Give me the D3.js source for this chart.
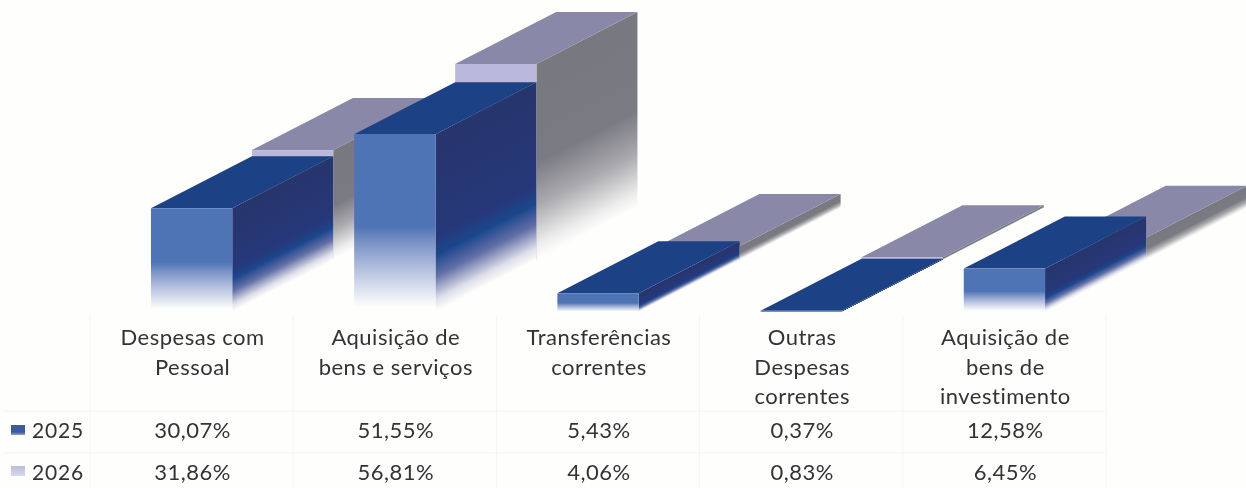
<!DOCTYPE html>
<html><head><meta charset="utf-8">
<script src="https://cdn.jsdelivr.net/npm/d3@7"></script>
<style>
html,body{margin:0;padding:0;background:#fefefc;overflow:hidden}
svg{filter:blur(0.4px);display:block}
text{font-family:Lato,"Noto Sans",sans-serif;fill:#333336}
</style></head><body>
<svg id="c" width="1246" height="488"></svg>
<script>
const categories = ["Despesas com Pessoal","Aquisição de bens e serviços","Transferências correntes","Outras Despesas correntes","Aquisição de bens de investimento"];
const categoryLines = [["Despesas com","Pessoal"],["Aquisição de","bens e serviços"],["Transferências","correntes"],["Outras","Despesas","correntes"],["Aquisição de","bens de","investimento"]];
const years = ["2025","2026"];
const values2025 = [30.07,51.55,5.43,0.37,12.58];
const values2026 = [31.86,56.81,4.06,0.83,6.45];
const labels2025 = ["30,07%","51,55%","5,43%","0,37%","12,58%"];
const labels2026 = ["31,86%","56,81%","4,06%","0,83%","6,45%"];

const W=1246,H=488, depthX=101, depthY=52, baseY=312;
const svg=d3.select("#c");
const x=d3.scaleBand().domain(categories).range([90,1106]).paddingInner(0.6).paddingOuter(0.3);
const y=d3.scaleLinear().domain([0,60]).range([baseY,baseY-207]);
const step=x.step(), bw=x.bandwidth();

const defs=svg.append("defs");
function grad(id,stops){
  const g=defs.append("linearGradient").attr("id",id).attr("x1",0).attr("x2",0).attr("y1",0).attr("y2",1);
  stops.forEach(s=>g.append("stop").attr("offset",s[0]).attr("stop-color",s[1]));
}
grad("front25",[[0,"#4f74b6"],[.52,"#4f74b6"],[.62,"#7f96c8"],[.8,"#c3cce4"],[.97,"#fefefc"],[1,"#fefefc"]]);
grad("side25",[[0,"#27356c"],[.58,"#26387a"],[.68,"#1b468c"],[.8,"#626fa6"],[.93,"#dedfe9"],[1,"#fefefc"]]);
grad("front26",[[0,"#bab9dc"],[1,"#bab9dc"]]);
grad("side26",[[0,"#78787f"],[.5,"#7a7a82"],[.72,"#a9a9ae"],[.92,"#ececec"],[1,"#fefefc"]]);
grad("leg25",[[0,"#3d5c9e"],[.7,"#3a5aa0"],[1,"#8fa2cc"]]);
grad("leg26",[[0,"#bdbcdc"],[1,"#d8d8e8"]]);

// table rules
const grid=svg.append("g").attr("stroke","#f5f4f1").attr("stroke-width",1);
d3.range(0,6).forEach(i=>grid.append("line").attr("x1",90+i*step).attr("x2",90+i*step).attr("y1",316).attr("y2",488));
[411,453].forEach(v=>grid.append("line").attr("x1",4).attr("x2",1106).attr("y1",v).attr("y2",v));

function drawSeries(vals,ox,oy,front,side,top){
  const g=svg.append("g");
  const idx=d3.range(categories.length).reverse();
  idx.forEach(i=>{
    const x0=x(categories[i])+ox, yT=y(vals[i])-oy, h=y(0)-y(vals[i]);
    g.append("rect").attr("x",0).attr("y",0).attr("width",depthX).attr("height",h)
      .attr("transform",`matrix(1,${-depthY/depthX},0,1,${x0+bw},${yT})`)
      .attr("fill",`url(#${side})`);
    g.append("polygon")
      .attr("points",[[x0,yT],[x0+bw,yT],[x0+bw+depthX,yT-depthY],[x0+depthX,yT-depthY]].join(" "))
      .attr("fill",top);
    g.append("rect").attr("x",x0).attr("y",yT).attr("width",bw).attr("height",h)
      .attr("fill",`url(#${front})`);
  });
}
drawSeries(values2026,depthX,depthY,"front26","side26","#8988a8");
drawSeries(values2025,0,0,"front25","side25","#1c4185");

// category labels
const fs=22, ls="0.5px";
categoryLines.forEach((lines,i)=>{
  const t=svg.append("text").attr("text-anchor","middle").attr("font-size",fs).style("letter-spacing",ls);
  lines.forEach((l,j)=>t.append("tspan").attr("x",x(categories[i])+bw/2+1).attr("y",345+j*29.6).text(l));
});
// values
[[labels2025,438],[labels2026,480]].forEach(([labs,yy])=>{
  labs.forEach((l,i)=>svg.append("text").attr("x",x(categories[i])+bw/2+1).attr("y",yy)
    .attr("text-anchor","middle").attr("font-size",fs).style("letter-spacing",ls).text(l));
});
// legend
[["leg25",425,438],["leg26",466,480]].forEach(([id,ry,ty],i)=>{
  svg.append("rect").attr("x",11).attr("y",ry).attr("width",14).attr("height",10).attr("fill",`url(#${id})`);
  svg.append("text").attr("x",32).attr("y",ty).attr("font-size",21).style("letter-spacing","0.8px").text(years[i]);
});
</script></body></html>
